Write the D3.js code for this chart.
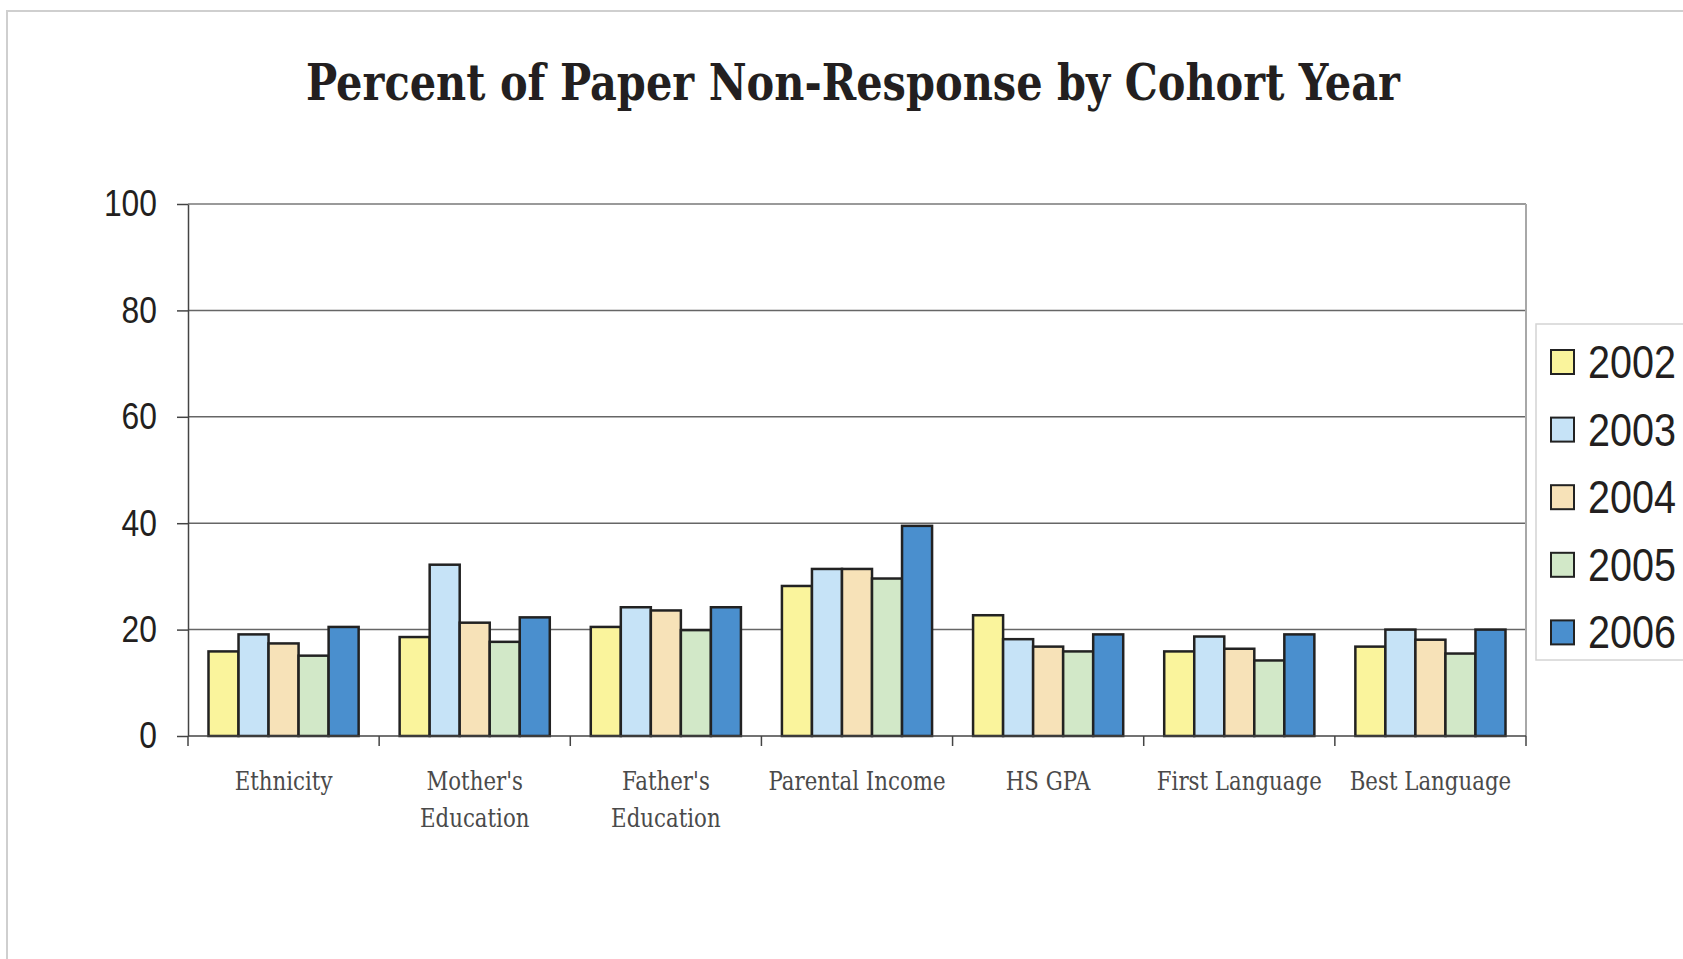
<!DOCTYPE html>
<html>
<head>
<meta charset="utf-8">
<script src="https://cdn.jsdelivr.net/npm/d3@7"></script>
<style>
  html, body { margin: 0; padding: 0; background: #fff; overflow: hidden; }
</style>
</head>
<body>
<div id="chart"></div>
<script>
const categories = ["Ethnicity", "Mother's Education", "Father's Education", "Parental Income", "HS GPA", "First Language", "Best Language"];
const labelLines = [["Ethnicity"], ["Mother's", "Education"], ["Father's", "Education"], ["Parental Income"], ["HS GPA"], ["First Language"], ["Best Language"]];
const years = ["2002", "2003", "2004", "2005", "2006"];

const v2002 = [15.9, 18.6, 20.5, 28.2, 22.7, 15.9, 16.8];
const v2003 = [19.1, 32.2, 24.2, 31.4, 18.2, 18.7, 20.0];
const v2004 = [17.4, 21.3, 23.6, 31.4, 16.8, 16.4, 18.1];
const v2005 = [15.1, 17.7, 19.9, 29.6, 15.9, 14.2, 15.5];
const v2006 = [20.5, 22.3, 24.2, 39.5, 19.1, 19.1, 20.0];
const series = [v2002, v2003, v2004, v2005, v2006];

const yTicks = [0, 20, 40, 60, 80, 100];
const colors = ["#faf49c", "#c6e3f7", "#f7e2b8", "#d2e8c8", "#4a8fce"];

const W = 1683, H = 959;
const plot = { left: 188, right: 1526, top: 204, bottom: 736 };
const narrow = 0.86; // condensed look of the sans labels

const svg = d3.select("#chart")
    .append("svg")
    .attr("width", W)
    .attr("height", H);

// outer frame
svg.append("rect")
    .attr("x", 7).attr("y", 11)
    .attr("width", W + 20).attr("height", H + 20)
    .attr("fill", "none")
    .attr("stroke", "#cfcfcf")
    .attr("stroke-width", 2);

svg.append("text")
    .attr("x", 853)
    .attr("y", 100)
    .attr("text-anchor", "middle")
    .attr("textLength", 1094)
    .attr("lengthAdjust", "spacingAndGlyphs")
    .style("font-family", "'DejaVu Serif', serif")
    .style("font-weight", "bold")
    .style("font-size", "50px")
    .style("fill", "#231f20")
    .text("Percent of Paper Non-Response by Cohort Year");

const x0 = d3.scaleBand()
    .domain(categories)
    .range([plot.left, plot.right])
    .padding(0);

const groupPad = 20.5;
const x1 = d3.scaleBand()
    .domain(years)
    .range([groupPad, x0.bandwidth() - groupPad])
    .padding(0);

const y = d3.scaleLinear()
    .domain([0, 100])
    .range([plot.bottom, plot.top]);

// gridlines
svg.append("g")
    .selectAll("line")
    .data(yTicks.filter(d => d > 0))
    .enter()
    .append("line")
    .attr("x1", plot.left)
    .attr("x2", plot.right)
    .attr("y1", d => y(d))
    .attr("y2", d => y(d))
    .attr("stroke", d => d === 100 ? "#9a9a9a" : "#666")
    .attr("stroke-width", d => d === 100 ? 2 : 1.5);

// right border of plot
svg.append("line")
    .attr("x1", plot.right).attr("x2", plot.right)
    .attr("y1", plot.top).attr("y2", plot.bottom)
    .attr("stroke", "#a8a8a8")
    .attr("stroke-width", 2);

// bars
const groups = svg.append("g")
    .selectAll("g")
    .data(categories)
    .enter()
    .append("g")
    .attr("transform", d => `translate(${x0(d)},0)`);

groups.selectAll("rect")
    .data((d, i) => years.map((yr, j) => ({ year: yr, j: j, value: series[j][i] })))
    .enter()
    .append("rect")
    .attr("x", d => x1(d.year))
    .attr("y", d => y(d.value))
    .attr("width", x1.bandwidth())
    .attr("height", d => y(0) - y(d.value))
    .attr("fill", d => colors[d.j])
    .attr("stroke", "#222")
    .attr("stroke-width", 2.5);

// y axis
const yAxis = d3.axisLeft(y)
    .tickValues(yTicks)
    .tickSize(11)
    .tickSizeOuter(0)
    .tickPadding(20);

const yg = svg.append("g")
    .attr("transform", `translate(${plot.left},0)`)
    .call(yAxis);
yg.select(".domain").attr("stroke", "#444").attr("stroke-width", 1.5);
yg.selectAll(".tick line").attr("stroke", "#444").attr("stroke-width", 1.5);
yg.selectAll(".tick text")
    .attr("x", -31 / narrow)
    .attr("transform", `scale(${narrow},1)`)
    .style("font-family", "'Liberation Sans', Arial, sans-serif")
    .style("font-size", "37px")
    .style("fill", "#231f20");

// x axis line and boundary ticks
svg.append("line")
    .attr("x1", plot.left).attr("x2", plot.right)
    .attr("y1", plot.bottom).attr("y2", plot.bottom)
    .attr("stroke", "#444")
    .attr("stroke-width", 1.5);

const bounds = categories.map(c => x0(c)).concat([plot.right]);
svg.append("g")
    .selectAll("line")
    .data(bounds)
    .enter()
    .append("line")
    .attr("x1", d => d).attr("x2", d => d)
    .attr("y1", plot.bottom).attr("y2", plot.bottom + 10)
    .attr("stroke", "#444")
    .attr("stroke-width", 1.5);

// category labels
const lbl = svg.append("g")
    .selectAll("text")
    .data(categories)
    .enter()
    .append("text")
    .attr("text-anchor", "middle")
    .attr("transform", d => `translate(${x0(d) + x0.bandwidth() / 2},790) scale(0.82,1)`)
    .style("font-family", "'DejaVu Serif', serif")
    .style("font-size", "26px")
    .style("fill", "#4a4a4a");

lbl.selectAll("tspan")
    .data((d, i) => labelLines[i])
    .enter()
    .append("tspan")
    .attr("x", 0)
    .attr("y", (d, i) => i * 37)
    .text(d => d);

// legend
const legend = svg.append("g");
legend.append("rect")
    .attr("x", 1536).attr("y", 324)
    .attr("width", 200).attr("height", 336)
    .attr("fill", "#fff")
    .attr("stroke", "#d4d4d4")
    .attr("stroke-width", 1.5);

const item = legend.selectAll("g.item")
    .data(years)
    .enter()
    .append("g")
    .attr("class", "item")
    .attr("transform", (d, i) => `translate(1551,${362 + i * 67.6})`);

item.append("rect")
    .attr("x", 0).attr("y", -12)
    .attr("width", 23).attr("height", 24)
    .attr("fill", (d, i) => colors[i])
    .attr("stroke", "#222")
    .attr("stroke-width", 2);

item.append("text")
    .attr("x", 37 / narrow)
    .attr("y", 16)
    .attr("transform", `scale(${narrow},1)`)
    .style("font-family", "'Liberation Sans', Arial, sans-serif")
    .style("font-size", "46px")
    .style("fill", "#231f20")
    .text(d => d);
</script>
</body>
</html>
